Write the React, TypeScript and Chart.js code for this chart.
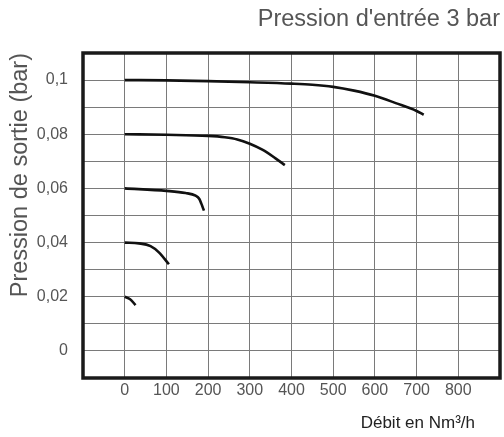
import React, { useEffect, useRef } from "react";
import { Chart, registerables } from "chart.js";

Chart.register(...registerables);

const chartTitle = "Pression d'entrée 3 bar";
const yTitle = "Pression de sortie (bar)";
const xTitle = "Débit en Nm³/h";

const flow1 = [0, 100, 200, 300, 400, 450, 500, 550, 600, 650, 700, 717];
const pres1 = [0.1, 0.0999, 0.0996, 0.0992, 0.0987, 0.0983, 0.0975, 0.0961, 0.0942, 0.0915, 0.0886, 0.0872];

const flow2 = [0, 100, 200, 240, 270, 300, 330, 360, 384];
const pres2 = [0.08, 0.0798, 0.0794, 0.0789, 0.0781, 0.0765, 0.0743, 0.0713, 0.0686];

const flow3 = [0, 100, 146, 170, 179, 184, 190];
const pres3 = [0.06, 0.0591, 0.0583, 0.0573, 0.0561, 0.0543, 0.0518];

const flow4 = [0, 34, 62, 82, 106];
const pres4 = [0.04, 0.0397, 0.0387, 0.0364, 0.032];

const flow5 = [0, 13, 26];
const pres5 = [0.02, 0.0191, 0.0169];

const xTickValues = [0, 100, 200, 300, 400, 500, 600, 700, 800];
const xTickLabels = ["0", "100", "200", "300", "400", "500", "600", "700", "800"];
const yTickValues = [0, 0.02, 0.04, 0.06, 0.08, 0.1];
const yTickLabels = ["0", "0,02", "0,04", "0,06", "0,08", "0,1"];

const FONT = "'Liberation Sans', Arial, Helvetica, sans-serif";

function toPoints(xs: number[], ys: number[]) {
  return xs.map((x, i) => ({ x, y: ys[i] }));
}

const framePlugin = {
  id: "frameAndXTitle",
  afterDraw(chart: any) {
    const { ctx, chartArea } = chart;
    const { left, top, right, bottom } = chartArea;
    ctx.save();
    ctx.strokeStyle = "#1a1a1a";
    ctx.lineWidth = 3.5;
    ctx.strokeRect(left, top, right - left, bottom - top);
    ctx.fillStyle = "#222";
    ctx.font = `17px ${FONT}`;
    ctx.textAlign = "right";
    ctx.textBaseline = "alphabetic";
    ctx.fillText(xTitle, right - 25, bottom + 50);
    ctx.restore();
  },
};

export default function App() {
  const ref = useRef<HTMLCanvasElement | null>(null);

  useEffect(() => {
    if (!ref.current) return;
    const lineStyle = {
      borderColor: "#111",
      borderWidth: 2.6,
      pointRadius: 0,
      fill: false,
      cubicInterpolationMode: "monotone" as const,
    };
    const chart = new Chart(ref.current, {
      type: "line",
      data: {
        datasets: [
          { data: toPoints(flow1, pres1), ...lineStyle },
          { data: toPoints(flow2, pres2), ...lineStyle },
          { data: toPoints(flow3, pres3), ...lineStyle },
          { data: toPoints(flow4, pres4), ...lineStyle },
          { data: toPoints(flow5, pres5), ...lineStyle },
        ],
      },
      options: {
        animation: false,
        responsive: false,
        layout: { padding: { left: 0, right: 4, top: 0, bottom: 0 } },
        plugins: {
          legend: { display: false },
          tooltip: { enabled: false },
          title: {
            display: true,
            text: chartTitle,
            align: "end",
            color: "#555",
            font: { family: FONT, size: 23.5, weight: "normal" },
            padding: { top: 5, bottom: 19.8 },
          },
        },
        scales: {
          x: {
            type: "linear",
            position: "bottom",
            min: -100,
            max: 900,
            afterFit(scale: any) {
              scale.height = 59;
            },
            border: { display: false },
            grid: { color: "#7a7a7a", lineWidth: 1, drawTicks: false },
            ticks: {
              stepSize: 100,
              maxTicksLimit: 20,
              autoSkip: false,
              maxRotation: 0,
              padding: 3,
              color: "#555",
              font: { family: FONT, size: 16 },
              callback: (value: any) => {
                const i = xTickValues.indexOf(Math.round(Number(value)));
                return i >= 0 ? xTickLabels[i] : "";
              },
            },
          },
          y: {
            type: "linear",
            position: "left",
            min: -0.01,
            max: 0.11,
            afterFit(scale: any) {
              scale.width = 83;
            },
            border: { display: false },
            grid: { color: "#7a7a7a", lineWidth: 1, drawTicks: false },
            title: {
              display: true,
              text: yTitle,
              align: "end",
              color: "#555",
              font: { family: FONT, size: 23.5, weight: "normal" },
              padding: { top: 6.4, bottom: 0 },
            },
            ticks: {
              stepSize: 0.01,
              maxTicksLimit: 20,
              autoSkip: false,
              padding: 15,
              color: "#555",
              font: { family: FONT, size: 16 },
              callback: (value: any) => {
                const v = Math.round(Number(value) * 100);
                const i = yTickValues.findIndex((t) => Math.round(t * 100) === v);
                return i >= 0 ? yTickLabels[i] : "";
              },
            },
          },
        },
      },
      plugins: [framePlugin],
    });
    return () => chart.destroy();
  }, []);

  return (
    <div style={{ position: "absolute", left: 0, top: 0, width: 504, height: 437, background: "#fff" }}>
      <canvas ref={ref} width={504} height={437} style={{ display: "block" }} />
    </div>
  );
}
